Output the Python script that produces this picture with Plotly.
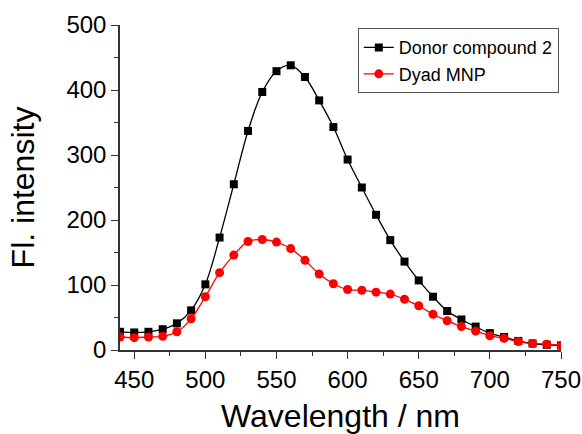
import plotly.graph_objects as go

# Emission spectra, 10 nm steps
wavelength = list(range(440, 751, 10))
donor = [28, 27, 28, 32, 41, 61, 101, 173, 255, 337, 397, 429, 438, 420, 384, 343,
         293, 250, 208, 169, 136, 107, 82, 60, 47, 36, 26, 20, 14, 10, 8, 7]
dyad = [20, 19, 20, 21, 28, 48, 82, 119, 146, 167, 170, 166, 156, 138, 117, 102,
        93, 92, 89, 86, 78, 68, 55, 45, 36, 29, 22, 18, 13, 10, 9, 7]

FONT = "Liberation Sans, Arial, sans-serif"

fig = go.Figure()
fig.add_trace(go.Scatter(
    x=wavelength, y=donor, name="Donor compound 2",
    mode="lines+markers", line=dict(color="black", width=1.3, shape="spline"),
    marker=dict(symbol="square", size=8, color="black"),
))
fig.add_trace(go.Scatter(
    x=wavelength, y=dyad, name="Dyad MNP",
    mode="lines+markers", line=dict(color="red", width=1.3, shape="spline"),
    marker=dict(symbol="circle", size=9, color="red"),
))

axis_common = dict(
    showgrid=False, zeroline=False, showline=True, linecolor="#333333", linewidth=1.5,
    ticks="outside", ticklen=7, tickwidth=1.3, tickcolor="#333333",
    tickfont=dict(family=FONT, size=24, color="black"),
    automargin=False,
)

fig.update_layout(
    width=582, height=434,
    margin=dict(l=120, r=21, t=25, b=84),
    paper_bgcolor="white", plot_bgcolor="white",
    font=dict(family=FONT, color="black"),
    xaxis=dict(
        range=[440, 750], tickvals=[450, 500, 550, 600, 650, 700, 750],
        minor=dict(dtick=25, tick0=450, ticks="outside", ticklen=4, tickcolor="#333333"),
        title=dict(text="Wavelength / nm", font=dict(size=32, family=FONT), standoff=25),
        **axis_common,
    ),
    yaxis=dict(
        range=[0, 500], tickvals=[0, 100, 200, 300, 400, 500],
        minor=dict(dtick=50, ticks="outside", ticklen=4, tickcolor="#333333"),
        title=dict(text="Fl. intensity", font=dict(size=32, family=FONT), standoff=22),
        **axis_common,
    ),
    legend=dict(
        x=0.995, y=0.99, xanchor="right", yanchor="top",
        bgcolor="white", bordercolor="#555555", borderwidth=1,
        font=dict(family=FONT, size=18, color="black"),
        tracegroupgap=0, itemwidth=30,
    ),
    showlegend=True,
)

fig.write_html("out.html")
